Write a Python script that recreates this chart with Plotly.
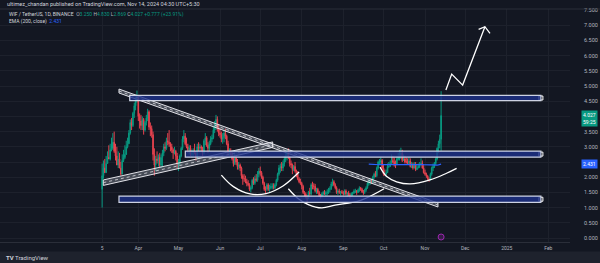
import numpy as np
import pandas as pd
import plotly.graph_objects as go

# ---------------- data (daily WIF/USDT, Binance) ----------------
start_date = "2024-03-05"
first_open = 1.60
closes = [
    # Mar
    2.05, 2.30, 2.15, 2.45, 2.65, 2.60, 2.90, 2.95, 3.15, 2.85, 2.70, 2.40, 2.60, 2.30, 2.10, 2.55, 2.65, 2.75, 3.00, 3.10, 3.45, 3.80, 3.70, 4.10, 4.35, 4.55, 4.65,
    # Apr
    4.00, 3.85, 3.70, 3.90, 3.55, 3.80, 3.95, 4.15, 3.65, 3.60, 3.40, 2.75, 2.40, 2.60, 2.55, 2.65, 2.40, 2.65, 2.80, 3.00, 2.95, 3.20, 3.15, 3.10, 3.00, 2.90, 2.80, 2.85, 2.70, 2.45,
    # May
    2.50, 2.70, 2.95, 3.25, 3.35, 3.10, 3.00, 2.90, 2.95, 2.75, 2.80, 2.85, 2.80, 2.65, 3.00, 2.95, 3.00, 2.95, 2.80, 3.20, 3.30, 3.05, 2.95, 3.10, 3.25, 3.30, 3.55, 3.70, 3.90, 3.60, 3.45,
    # Jun
    3.40, 3.25, 3.30, 3.45, 3.35, 3.10, 2.80, 2.85, 2.75, 2.60, 2.45, 2.65, 2.50, 2.35, 2.40, 2.30, 2.05, 1.95, 1.95, 1.85, 1.80, 1.75, 1.60, 1.65, 1.90, 1.80, 1.95, 1.90, 2.10, 2.20,
    # Jul
    2.15, 2.00, 1.80, 1.60, 1.60, 1.75, 1.60, 1.65, 1.70, 1.70, 1.65, 1.75, 1.90, 2.10, 2.30, 2.35, 2.30, 2.45, 2.60, 2.70, 2.80, 2.65, 2.45, 2.40, 2.25, 2.35, 2.20, 2.10, 1.95, 1.85, 1.80,
    # Aug
    1.70, 1.50, 1.45, 1.35, 1.30, 1.50, 1.45, 1.75, 1.70, 1.70, 1.55, 1.60, 1.50, 1.40, 1.38, 1.45, 1.50, 1.45, 1.48, 1.50, 1.60, 1.62, 1.78, 1.85, 1.75, 1.65, 1.50, 1.55, 1.50, 1.52, 1.50,
    # Sep
    1.45, 1.55, 1.45, 1.48, 1.42, 1.40, 1.45, 1.48, 1.55, 1.55, 1.50, 1.58, 1.65, 1.60, 1.52, 1.50, 1.58, 1.65, 1.80, 1.80, 1.90, 1.85, 2.00, 2.10, 2.05, 2.30, 2.50, 2.50, 2.55, 2.30,
    # Oct
    2.10, 2.10, 2.15, 2.35, 2.35, 2.45, 2.55, 2.50, 2.40, 2.40, 2.60, 2.65, 2.70, 2.80, 2.55, 2.60, 2.50, 2.50, 2.45, 2.53, 2.35, 2.40, 2.30, 2.40, 2.25, 2.30, 2.35, 2.40, 2.45, 2.30, 2.15,
    # Nov
    2.10, 2.05, 1.95, 1.92, 2.10, 2.30, 2.35, 2.45, 2.60, 2.95, 3.10, 3.25, 4.027,
]
highs = [
    2.45, 2.55, 2.60, 2.70, 2.85, 3.05, 3.10, 3.30, 3.45, 3.50, 3.10, 3.00, 2.85, 2.80, 2.50, 2.75, 2.90, 3.05, 3.20, 3.30, 3.55, 3.90, 3.95, 4.15, 4.45, 4.65, 4.85,
    4.70, 4.10, 4.05, 4.00, 3.95, 3.85, 4.05, 4.25, 4.20, 3.80, 3.70, 3.50, 2.95, 2.70, 2.85, 2.75, 2.80, 2.75, 2.90, 3.10, 3.15, 3.30, 3.45, 3.55, 3.15, 3.10, 2.95, 3.00, 2.90, 2.80,
    2.60, 2.75, 3.00, 3.35, 3.55, 3.45, 3.30, 3.10, 3.05, 3.05, 2.90, 2.95, 3.10, 2.85, 3.10, 3.15, 3.10, 3.05, 3.00, 3.25, 3.45, 3.35, 3.15, 3.20, 3.35, 3.40, 3.65, 3.85, 4.05, 4.00, 3.75,
    3.60, 3.50, 3.45, 3.55, 3.60, 3.40, 3.20, 2.95, 2.95, 2.85, 2.70, 2.75, 2.70, 2.60, 2.50, 2.45, 2.35, 2.10, 2.10, 2.05, 1.95, 1.90, 1.80, 1.70, 1.95, 2.00, 2.05, 2.10, 2.20, 2.30,
    2.35, 2.20, 2.05, 1.85, 1.70, 1.80, 1.80, 1.75, 1.80, 1.80, 1.80, 1.80, 1.95, 2.15, 2.40, 2.45, 2.50, 2.55, 2.70, 2.80, 2.90, 2.95, 2.70, 2.55, 2.45, 2.40, 2.50, 2.25, 2.20, 2.00, 1.95,
    1.85, 1.75, 1.55, 1.50, 1.40, 1.55, 1.65, 1.80, 1.85, 1.80, 1.78, 1.65, 1.65, 1.55, 1.45, 1.50, 1.55, 1.58, 1.55, 1.60, 1.65, 1.70, 1.85, 1.95, 1.90, 1.80, 1.70, 1.60, 1.62, 1.55, 1.58,
    1.55, 1.60, 1.60, 1.50, 1.55, 1.48, 1.50, 1.52, 1.60, 1.62, 1.58, 1.62, 1.70, 1.68, 1.65, 1.58, 1.62, 1.70, 1.85, 1.90, 1.95, 1.95, 2.05, 2.15, 2.20, 2.35, 2.55, 2.60, 2.65, 2.60,
    2.40, 2.25, 2.25, 2.45, 2.50, 2.55, 2.75, 2.70, 2.65, 2.55, 2.70, 2.80, 2.90, 2.97, 2.90, 2.75, 2.70, 2.65, 2.62, 2.65, 2.62, 2.50, 2.48, 2.50, 2.50, 2.40, 2.45, 2.50, 2.62, 2.55, 2.40,
    2.25, 2.15, 2.05, 2.00, 2.15, 2.35, 2.45, 2.50, 2.65, 2.98, 3.20, 3.40, 4.83,
]
lows = [
    1.00, 1.95, 2.15, 2.15, 2.45, 2.60, 2.55, 2.85, 2.90, 2.80, 2.55, 2.40, 2.30, 2.30, 2.05, 2.10, 2.50, 2.60, 2.80, 2.95, 3.10, 3.40, 3.55, 3.65, 3.95, 4.20, 4.45,
    3.85, 3.60, 3.55, 3.55, 3.40, 3.50, 3.70, 3.85, 3.55, 3.35, 3.30, 2.55, 2.05, 2.20, 2.45, 2.35, 2.30, 2.30, 2.35, 2.70, 2.85, 2.90, 3.05, 3.00, 2.85, 2.80, 2.60, 2.75, 2.55, 2.30,
    2.20, 2.40, 2.65, 2.90, 3.15, 3.05, 2.95, 2.80, 2.75, 2.70, 2.65, 2.70, 2.75, 2.55, 2.60, 2.85, 2.85, 2.85, 2.70, 2.75, 3.05, 3.00, 2.80, 2.85, 3.05, 3.15, 3.25, 3.45, 3.55, 3.50, 3.35,
    3.30, 3.15, 3.10, 3.15, 3.25, 3.05, 2.70, 2.70, 2.70, 2.55, 2.35, 2.40, 2.40, 2.25, 2.25, 2.20, 1.95, 1.75, 1.85, 1.80, 1.70, 1.70, 1.55, 1.50, 1.60, 1.75, 1.75, 1.85, 1.85, 2.00,
    2.05, 1.95, 1.75, 1.55, 1.45, 1.55, 1.55, 1.50, 1.60, 1.60, 1.60, 1.60, 1.70, 1.85, 2.05, 2.15, 2.20, 2.20, 2.35, 2.50, 2.55, 2.60, 2.35, 2.30, 2.10, 2.20, 2.15, 2.00, 1.90, 1.80, 1.75,
    1.60, 1.45, 1.35, 1.30, 1.15, 1.28, 1.40, 1.40, 1.60, 1.60, 1.50, 1.45, 1.45, 1.35, 1.30, 1.32, 1.40, 1.42, 1.38, 1.40, 1.45, 1.50, 1.58, 1.70, 1.70, 1.60, 1.45, 1.42, 1.45, 1.40, 1.45,
    1.40, 1.42, 1.40, 1.35, 1.38, 1.30, 1.35, 1.38, 1.45, 1.48, 1.42, 1.48, 1.52, 1.55, 1.48, 1.42, 1.45, 1.52, 1.62, 1.72, 1.75, 1.78, 1.80, 1.95, 2.00, 2.00, 2.25, 2.40, 2.40, 2.25,
    2.05, 2.05, 2.05, 2.15, 2.30, 2.35, 2.45, 2.45, 2.35, 2.30, 2.40, 2.55, 2.55, 2.60, 2.50, 2.55, 2.45, 2.45, 2.42, 2.42, 2.32, 2.30, 2.25, 2.30, 2.20, 2.25, 2.30, 2.30, 2.40, 2.28, 2.12,
    2.05, 1.98, 1.88, 1.85, 1.90, 2.05, 2.20, 2.30, 2.40, 2.55, 2.80, 2.95, 2.869,
]

# axis labels
price_ticks = [0.0, 0.5, 1.0, 1.5, 2.0, 2.5, 3.0, 3.5, 4.0, 4.5, 5.0, 5.5, 6.0, 6.5, 7.0, 7.5]
time_tick_dates = ["2024-03-05", "2024-04-01", "2024-05-01", "2024-06-01", "2024-07-01", "2024-08-01",
                   "2024-09-01", "2024-10-01", "2024-11-01", "2024-12-01", "2025-01-01", "2025-02-01"]
time_tick_text = ["5", "Apr", "May", "Jun", "Jul", "Aug", "Sep", "Oct", "Nov", "Dec", "2025", "Feb"]

# ---------------- drawings (time/price anchors) ----------------
rect_starts = ["2024-03-25 14:00", "2024-05-06 02:00", "2024-03-17 14:00"]
rect_end = "2025-01-26 12:00"
rect_lows = [4.52, 2.66, 1.17]
rect_highs = [4.69, 2.86, 1.38]

desc_t = ["2024-03-17 14:00", "2024-11-10 16:00"]
desc_top = [4.90, 1.15]
desc_bot = [4.77, 1.02]

asc_t = ["2024-03-05 21:00", "2024-07-10 07:00"]
asc_top = [1.91, 3.16]
asc_bot = [1.73, 2.98]

arc1_t = ["2024-06-02", "2024-06-11", "2024-06-23 10:00", "2024-07-05 08:00", "2024-07-18", "2024-07-30"]
arc1_p = [2.07, 1.69, 1.45, 1.46, 1.71, 2.17]
arc2_t = ["2024-07-22", "2024-07-29 10:00", "2024-08-05 22:00", "2024-08-15 22:00", "2024-08-25 20:00", "2024-09-14", "2024-10-01 10:00"]
arc2_p = [1.62, 1.29, 1.10, 0.99, 1.08, 1.24, 1.62]
arc3_t = ["2024-09-28 10:00", "2024-10-03 10:00", "2024-10-10 20:00", "2024-10-20 20:00", "2024-11-04 17:00", "2024-11-17 02:00", "2024-11-24 14:00"]
arc3_p = [2.33, 2.02, 1.85, 1.78, 1.91, 2.13, 2.29]

arrow_t = ["2024-11-16 14:00", "2024-11-20 22:00", "2024-11-29 02:00", "2024-12-15 17:00"]
arrow_p = [4.87, 5.39, 5.03, 6.95]
arrowhead_t = ["2024-12-11", "2024-12-15 17:00", "2024-12-19 12:00"]
arrowhead_p = [6.86, 6.95, 6.73]

# ---------------- derived ----------------
dates = pd.date_range(start_date, periods=len(closes), freq="D")
opens = [first_open] + closes[:-1]

ema_len = 200
alpha = 2.0 / (ema_len + 1)
ema = [None] * len(closes)
ema[ema_len - 1] = float(np.mean(closes[:ema_len]))
for i in range(ema_len, len(closes)):
    ema[i] = alpha * closes[i] + (1 - alpha) * ema[i - 1]
ema_last = ema[-1]

UP = "#089981"
DOWN = "#e8434f"
BG = "#131722"
TXT = "#b2b5be"
FONT = "Roboto"

fig = go.Figure()

fig.add_trace(go.Candlestick(
    x=dates, open=opens, high=highs, low=lows, close=closes,
    increasing=dict(line=dict(color=UP, width=1), fillcolor=UP),
    decreasing=dict(line=dict(color=DOWN, width=1), fillcolor=DOWN),
    whiskerwidth=0, showlegend=False, hoverinfo="skip",
))

fig.add_trace(go.Scatter(x=dates, y=ema, mode="lines",
                         line=dict(color="#2962ff", width=1.2),
                         showlegend=False, hoverinfo="skip"))

# rectangles
for s, lo, hi in zip(rect_starts, rect_lows, rect_highs):
    fig.add_shape(type="rect", xref="x", yref="y", x0=s, x1=rect_end, y0=lo, y1=hi,
                  line=dict(color="rgba(215,220,235,0.95)", width=1.2),
                  fillcolor="rgba(30,50,140,0.80)", layer="above")
fig.add_trace(go.Scatter(
    x=[rect_end] * len(rect_lows),
    y=[(a + b) / 2 for a, b in zip(rect_lows, rect_highs)],
    mode="markers", marker=dict(symbol="square", size=4, color=BG,
                                line=dict(color="white", width=1)),
    showlegend=False, hoverinfo="skip"))


def channel(t, top, bot):
    fig.add_trace(go.Scatter(
        x=[t[0], t[1], t[1], t[0], t[0]], y=[top[0], top[1], bot[1], bot[0], top[0]],
        mode="lines", fill="toself", fillcolor="rgba(190,195,210,0.30)",
        line=dict(color="rgba(235,235,240,0.95)", width=1),
        showlegend=False, hoverinfo="skip"))
    fig.add_trace(go.Scatter(
        x=t, y=[(top[0] + bot[0]) / 2, (top[1] + bot[1]) / 2], mode="lines",
        line=dict(color="rgba(220,220,225,0.8)", width=1, dash="dot"),
        showlegend=False, hoverinfo="skip"))


channel(desc_t, desc_top, desc_bot)
channel(asc_t, asc_top, asc_bot)

for tt, pp in [(arc1_t, arc1_p), (arc2_t, arc2_p), (arc3_t, arc3_p)]:
    fig.add_trace(go.Scatter(x=tt, y=pp, mode="lines",
                             line=dict(color="white", width=1.3, shape="spline"),
                             showlegend=False, hoverinfo="skip"))

fig.add_trace(go.Scatter(x=arrow_t, y=arrow_p, mode="lines",
                         line=dict(color="white", width=1.3),
                         showlegend=False, hoverinfo="skip"))
fig.add_trace(go.Scatter(x=arrowhead_t, y=arrowhead_p, mode="lines",
                         line=dict(color="white", width=1.3),
                         showlegend=False, hoverinfo="skip"))

# ---------------- layout ----------------
W, H = 600, 263
ML, MR, MT, MB = 0, 30, 9, 21
PW, PH = W - ML - MR, H - MT - MB


def px(x):
    return (x - ML) / PW


def py(y):
    return (H - MB - y) / PH


# price scale labels hidden behind the last-price / EMA badges (as on the scale)
badge_prices = [closes[-1], ema_last]
price_text = ["" if any(abs(v - b) < 0.2 for b in badge_prices) else f"{v:.3f}" for v in price_ticks]

fig.update_layout(
    width=W, height=H,
    margin=dict(l=ML, r=MR, t=MT, b=MB, pad=0),
    paper_bgcolor=BG, plot_bgcolor=BG,
    font=dict(family=FONT, color=TXT, size=5),
    showlegend=False,
    xaxis=dict(
        type="date", range=["2023-12-19 18:45", "2025-02-17 05:00"],
        rangeslider=dict(visible=False),
        tickvals=time_tick_dates, ticktext=time_tick_text,
        tickfont=dict(size=5, color=TXT, family=FONT),
        showgrid=True, gridcolor="#1d212c", gridwidth=1,
        zeroline=False, showline=True, linecolor="#2a2e39", linewidth=1,
        ticks="", ticklabelstandoff=1, fixedrange=True,
    ),
    yaxis=dict(
        side="right", range=[-0.1316, 7.533],
        tickvals=price_ticks, ticktext=price_text,
        tickfont=dict(size=5.5, color=TXT, family=FONT),
        showgrid=True, gridcolor="#1d212c", gridwidth=1,
        zeroline=False, showline=False, ticks="", ticklabelstandoff=13,
        fixedrange=True,
    ),
)

# header separator and bottom bar
fig.add_shape(type="line", xref="paper", yref="paper", x0=0, x1=px(W), y0=1, y1=1,
              line=dict(color="#2a2e39", width=1))
fig.add_shape(type="rect", xref="paper", yref="paper", x0=px(0), x1=px(W),
              y0=py(H), y1=py(251.5), fillcolor="#1e222d", line=dict(width=0), layer="above")

# event marker
fig.add_shape(type="circle", xref="x", yref="paper", xsizemode="pixel", ysizemode="pixel",
              xanchor=dates[-1], yanchor=py(237), x0=-3, x1=3, y0=-3, y1=3,
              line=dict(color="#9c27b0", width=1), fillcolor="rgba(156,39,176,0.25)")

chg = closes[-1] - closes[-2]
pct = chg / closes[-2] * 100
g = lambda s: f'<span style="color:{UP}">{s}</span>'
legend1 = ('<span style="color:#d1d4dc">WIF / TetherUS, 1D, BINANCE</span>  '
           f'O{g(f"{opens[-1]:.3f}")} H{g(f"{highs[-1]:.3f}")} L{g(f"{lows[-1]:.3f}")} '
           f'C{g(f"{closes[-1]:.3f}")} {g(f"{chg:+.3f} ({pct:+.2f}%)")}')
legend2 = ('<span style="color:#d1d4dc">EMA (200, close)</span>  '
           f'<span style="color:#2962ff">{ema_last:.3f}</span>')

fig.add_annotation(xref="paper", yref="paper", x=px(5), y=py(4.5), xanchor="left", yanchor="middle",
                   text="ultimez_chandan published on TradingView.com, Nov 14, 2024 04:30 UTC+5:30",
                   showarrow=False, font=dict(size=5.5, color="#d1d4dc", family=FONT))
fig.add_annotation(xref="paper", yref="paper", x=px(6.5), y=py(15), xanchor="left", yanchor="middle",
                   text=legend1, showarrow=False, font=dict(size=5, color=TXT, family=FONT))
fig.add_annotation(xref="paper", yref="paper", x=px(6.5), y=py(21), xanchor="left", yanchor="middle",
                   text=legend2, showarrow=False, font=dict(size=5, color=TXT, family=FONT))

# price labels on scale
fig.add_annotation(xref="paper", yref="y", x=px(581), y=closes[-1], xanchor="left", yanchor="middle",
                   yshift=-3, text=f"{closes[-1]:.3f}<br>59:25", showarrow=False, align="center",
                   bgcolor=UP, borderpad=1, font=dict(size=5, color="white", family=FONT))
fig.add_annotation(xref="paper", yref="y", x=px(581), y=ema_last, xanchor="left", yanchor="middle",
                   text=f"{ema_last:.3f}", showarrow=False, bgcolor="#2962ff", borderpad=1,
                   font=dict(size=5, color="white", family=FONT))

# TradingView logo text
fig.add_annotation(xref="paper", yref="paper", x=px(4), y=py(257.5), xanchor="left", yanchor="middle",
                   text="<b>TV</b> TradingView", showarrow=False,
                   font=dict(size=6, color="#d1d4dc", family=FONT))

fig.write_html("out.html")
